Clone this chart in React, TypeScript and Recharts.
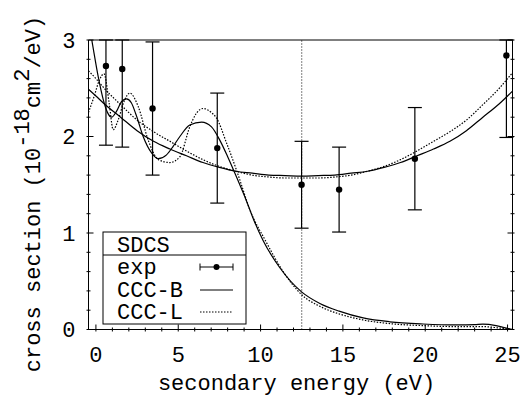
import React from 'react';
import { ComposedChart, Line, Scatter, ErrorBar, XAxis, YAxis, ReferenceLine } from 'recharts';

// ---- data ----
const expX = [0.61, 1.6, 3.44, 7.37, 12.49, 14.77, 19.37, 24.93];
const expY = [2.73, 2.7, 2.29, 1.88, 1.5, 1.45, 1.77, 2.84];
const expErr = [0.82, 0.81, 0.69, 0.57, 0.45, 0.44, 0.53, 0.85];

const uX = [-0.45, 0, 0.5, 1.5, 2.5, 3.5, 4.5, 5.5, 6.5, 7.5, 8.5, 9.5, 10.5, 11.5, 12.5, 13.5, 14.5, 15.5, 16.5, 17.5, 18.5, 19.5, 20.5, 21.5, 22.5, 23.5, 24.5, 25, 25.3];
const cccBU = [2.49, 2.42, 2.34, 2.2, 2.06, 1.95, 1.87, 1.8, 1.73, 1.68, 1.64, 1.62, 1.6, 1.595, 1.59, 1.595, 1.6, 1.62, 1.64, 1.68, 1.73, 1.8, 1.87, 1.95, 2.06, 2.2, 2.34, 2.42, 2.47];
const cccLU = [2.68, 2.6, 2.5, 2.33, 2.17, 2.05, 1.95, 1.85, 1.76, 1.69, 1.64, 1.6, 1.58, 1.57, 1.57, 1.57, 1.58, 1.6, 1.64, 1.69, 1.76, 1.85, 1.95, 2.05, 2.17, 2.33, 2.5, 2.6, 2.66];

const bX = [-0.45, -0.2, 0.14, 0.45, 0.7, 0.95, 1.25, 1.55, 1.86, 2.15, 2.45, 2.87, 3.38, 3.78, 4.29, 4.7, 5.1, 5.7, 6.42, 7.02, 7.53, 8.03, 8.54, 9.15, 9.6, 10.16, 11.17, 12.49, 13.6, 14.77, 16.23, 17.85, 19.87, 21.9, 23.0, 23.5, 24.3, 24.8, 25.3];
const cccBD = [3.2, 2.95, 2.62, 2.38, 2.25, 2.2, 2.26, 2.36, 2.39, 2.35, 2.22, 2.0, 1.83, 1.77, 1.81, 1.9, 2.0, 2.12, 2.15, 2.1, 1.96, 1.78, 1.58, 1.33, 1.13, 0.92, 0.64, 0.39, 0.27, 0.19, 0.12, 0.08, 0.057, 0.047, 0.05, 0.055, 0.04, 0.02, 0.0];

const lX = [-0.45, -0.1, 0.2, 0.49, 0.81, 1.05, 1.35, 1.7, 2.06, 2.57, 3.18, 3.8, 4.49, 5.1, 5.7, 6.1, 6.52, 7.0, 7.33, 7.94, 8.54, 8.74, 9.35, 10.3, 11.3, 12.5, 13.6, 14.8, 16.2, 17.9, 19.9, 21.9, 23.5, 24.5, 25.3];
const cccLD = [2.25, 2.42, 2.58, 2.65, 2.34, 2.07, 2.17, 2.36, 2.45, 2.31, 1.96, 1.76, 1.73, 1.79, 2.1, 2.24, 2.29, 2.25, 2.19, 1.93, 1.65, 1.55, 1.24, 0.92, 0.62, 0.36, 0.24, 0.16, 0.1, 0.06, 0.04, 0.03, 0.03, 0.015, 0];

const xTicks = [0, 1, 2, 3, 4, 5, 6, 7, 8, 9, 10, 11, 12, 13, 14, 15, 16, 17, 18, 19, 20, 21, 22, 23, 24, 25];
const xMajor = [0, 5, 10, 15, 20, 25];
const yTicks = [0, 0.2, 0.4, 0.6, 0.8, 1, 1.2, 1.4, 1.6, 1.8, 2, 2.2, 2.4, 2.6, 2.8, 3];
const yMajor = [0, 1, 2, 3];
const thresholdX = 12.5;
const legendTitle = 'SDCS';
const legendNames = ['exp', 'CCC-B', 'CCC-L'];

const xDomain: [number, number] = [-0.45, 25.3];
const yDomain: [number, number] = [0, 3];

// error bars are cut at the top of the frame, as in the original plot
const expData = expX.map((x, i) => ({
  x,
  y: expY[i],
  err: [expErr[i], Math.min(expErr[i], yDomain[1] - expY[i])],
}));
const bUData = uX.map((x, i) => ({ x, y: cccBU[i] }));
const lUData = uX.map((x, i) => ({ x, y: cccLU[i] }));
const bDData = bX.map((x, i) => ({ x, y: cccBD[i] }));
const lDData = lX.map((x, i) => ({ x, y: cccLD[i] }));

const FONT = '"Liberation Mono", "DejaVu Sans Mono", monospace';
const FS = 22;
const isMajorY = (v: number) => yMajor.some((m) => Math.abs(m - v) < 1e-6);

const BottomTick = (p: any) => {
  const major = xMajor.includes(p.payload.value);
  return (
    <g>
      <line x1={p.x} x2={p.x} y1={p.y} y2={p.y - (major ? 7 : 4)} stroke="#000" />
      {major && (
        <text x={p.x} y={p.y + 30} textAnchor="middle" fontSize={FS} fontFamily={FONT} fill="#000">
          {p.payload.value}
        </text>
      )}
    </g>
  );
};
const TopTick = (p: any) => {
  const major = xMajor.includes(p.payload.value);
  return <line x1={p.x} x2={p.x} y1={p.y} y2={p.y + (major ? 7 : 4)} stroke="#000" />;
};
const LeftTick = (p: any) => {
  const major = isMajorY(p.payload.value);
  return (
    <g>
      <line x1={p.x} x2={p.x + (major ? 7 : 4)} y1={p.y} y2={p.y} stroke="#000" />
      {major && (
        <text x={p.x - 11} y={p.y} dy="0.36em" textAnchor="end" fontSize={FS} fontFamily={FONT} fill="#000">
          {Math.round(p.payload.value)}
        </text>
      )}
    </g>
  );
};
const RightTick = (p: any) => {
  const major = isMajorY(p.payload.value);
  return <line x1={p.x} x2={p.x - (major ? 7 : 4)} y1={p.y} y2={p.y} stroke="#000" />;
};

const Dot = (p: any) => <circle cx={p.cx} cy={p.cy} r={3.2} fill="#000" />;

const XLabel = (p: any) => {
  const vb = p.viewBox || { x: 0, y: 0, width: 0 };
  return (
    <text x={vb.x + vb.width / 2 - 4} y={vb.y + 60} textAnchor="middle" fontSize={FS} fontFamily={FONT} fill="#000">
      secondary energy (eV)
    </text>
  );
};

const YLabel = () => (
  <text
    x={40}
    y={194}
    transform="rotate(-90, 40, 194)"
    textAnchor="middle"
    fontSize={FS}
    fontFamily={FONT}
    fill="#000"
  >
    cross section (10
    <tspan dy={-11}>-18</tspan>
    <tspan dy={11}>cm</tspan>
    <tspan dy={-11}>2</tspan>
    <tspan dy={11}>/eV)</tspan>
  </text>
);

const LegendBox = () => (
  <svg
    width={145}
    height={94}
    style={{ position: 'absolute', left: 102, top: 231 }}
  >
    <rect x={1} y={1} width={143} height={92} fill="#fff" stroke="#000" strokeWidth={1} />
    <line x1={1} x2={144} y1={24} y2={24} stroke="#000" />
    <text x={15} y={21} fontSize={FS} fontFamily={FONT} fill="#000">{legendTitle}</text>
    <text x={15} y={43} fontSize={FS} fontFamily={FONT} fill="#000">{legendNames[0]}</text>
    <text x={15} y={66} fontSize={FS} fontFamily={FONT} fill="#000">{legendNames[1]}</text>
    <text x={15} y={88} fontSize={FS} fontFamily={FONT} fill="#000">{legendNames[2]}</text>
    <line x1={98} x2={131} y1={36} y2={36} stroke="#000" />
    <line x1={98} x2={98} y1={32.5} y2={39.5} stroke="#000" />
    <line x1={131} x2={131} y1={32.5} y2={39.5} stroke="#000" />
    <circle cx={114.5} cy={36} r={3} fill="#000" />
    <line x1={98} x2={131} y1={59} y2={59} stroke="#000" strokeWidth={1.2} />
    <line x1={98} x2={131} y1={81} y2={81} stroke="#000" strokeWidth={1.2} strokeDasharray="1.5 1.5" />
  </svg>
);

export default function App() {
  return (
    <div style={{ position: 'absolute', left: 0, top: 0, width: 527, height: 396, background: '#fff' }}>
      <ComposedChart
        width={527}
        height={396}
        margin={{ top: 30, right: 0.5, bottom: 6.5, left: 0 }}
      >
        <XAxis
          dataKey="x"
          type="number"
          domain={xDomain}
          allowDataOverflow
          ticks={xTicks}
          interval={0}
          height={60}
          tickSize={0}
          tickLine={false}
          axisLine={{ stroke: '#000' }}
          tick={BottomTick}
          label={{ content: XLabel }}
        />
        <XAxis
          xAxisId="top"
          orientation="top"
          type="number"
          domain={xDomain}
          allowDataOverflow
          ticks={xTicks}
          interval={0}
          height={10}
          tickSize={0}
          tickLine={false}
          axisLine={{ stroke: '#000' }}
          tick={TopTick}
        />
        <YAxis
          type="number"
          domain={yDomain}
          allowDataOverflow
          ticks={yTicks}
          interval={0}
          width={88.5}
          tickSize={0}
          tickLine={false}
          axisLine={{ stroke: '#000' }}
          tick={LeftTick}
          label={{ content: YLabel }}
        />
        <YAxis
          yAxisId="right"
          orientation="right"
          type="number"
          domain={yDomain}
          allowDataOverflow
          ticks={yTicks}
          interval={0}
          width={14}
          tickSize={0}
          tickLine={false}
          axisLine={{ stroke: '#000' }}
          tick={RightTick}
        />
        <ReferenceLine x={thresholdX} stroke="#000" strokeWidth={1} strokeDasharray="1 2" />
        <Line data={bUData} dataKey="y" type="monotone" stroke="#000" strokeWidth={1.2} dot={false} isAnimationActive={false} />
        <Line data={lUData} dataKey="y" type="monotone" stroke="#000" strokeWidth={1.2} strokeDasharray="1.5 1.5" dot={false} isAnimationActive={false} />
        <Line data={bDData} dataKey="y" type="monotone" stroke="#000" strokeWidth={1.2} dot={false} isAnimationActive={false} />
        <Line data={lDData} dataKey="y" type="monotone" stroke="#000" strokeWidth={1.2} strokeDasharray="1.5 1.5" dot={false} isAnimationActive={false} />
        <Scatter data={expData} dataKey="y" shape={Dot} isAnimationActive={false}>
          <ErrorBar dataKey="err" direction="y" width={7} stroke="#000" strokeWidth={1.2} isAnimationActive={false} />
        </Scatter>
      </ComposedChart>
      <LegendBox />
    </div>
  );
}
